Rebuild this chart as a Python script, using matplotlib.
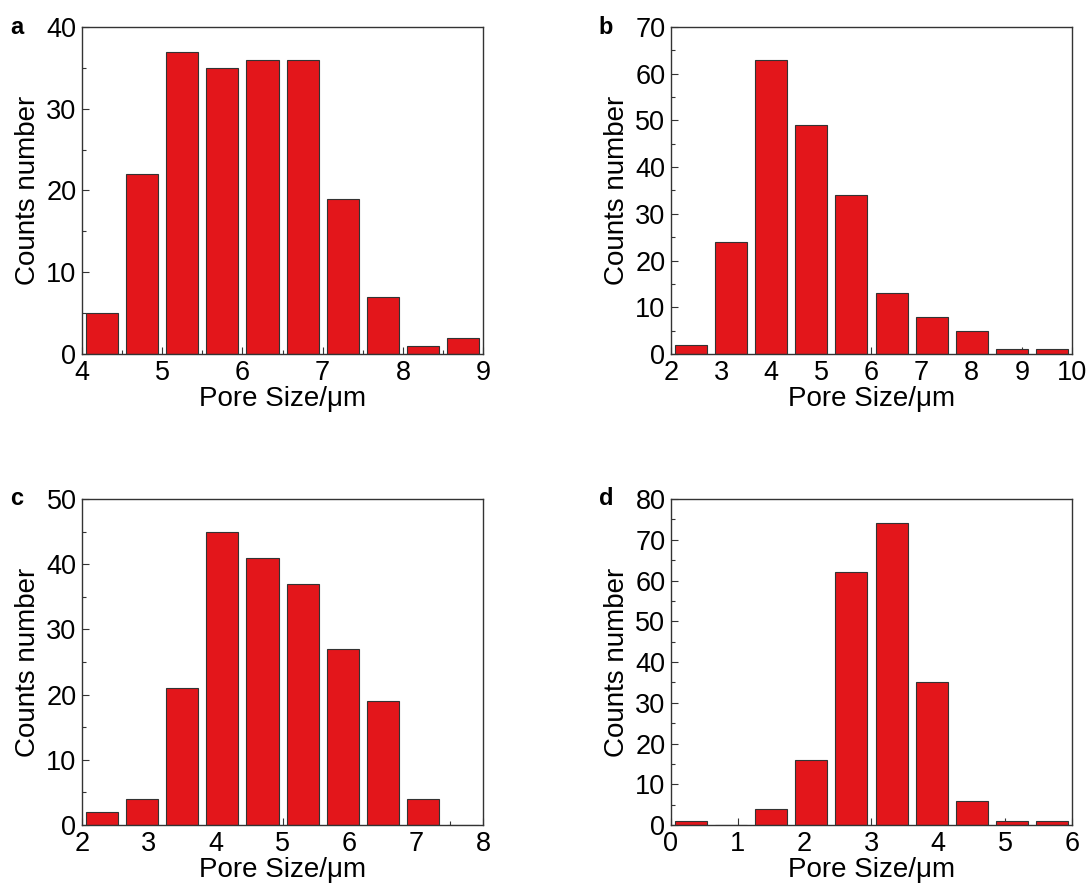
import matplotlib
matplotlib.use("Agg")
import matplotlib.pyplot as plt
from matplotlib.ticker import MultipleLocator

plt.rcParams['font.family'] = ['Liberation Sans', 'DejaVu Sans']

# bin centres and counts for each panel
centers_a = [4.25, 4.75, 5.25, 5.75, 6.25, 6.75, 7.25, 7.75, 8.25, 8.75]
counts_a = [5, 22, 37, 35, 36, 36, 19, 7, 1, 2]

centers_b = [2.4, 3.2, 4.0, 4.8, 5.6, 6.4, 7.2, 8.0, 8.8, 9.6]
counts_b = [2, 24, 63, 49, 34, 13, 8, 5, 1, 1]

centers_c = [2.3, 2.9, 3.5, 4.1, 4.7, 5.3, 5.9, 6.5, 7.1, 7.7]
counts_c = [2, 4, 21, 45, 41, 37, 27, 19, 4, 0]

centers_d = [0.3, 0.9, 1.5, 2.1, 2.7, 3.3, 3.9, 4.5, 5.1, 5.7]
counts_d = [1, 0, 4, 16, 62, 74, 35, 6, 1, 1]

panels = [
    ('a', centers_a, counts_a, 0.5, (4, 9), (0, 40), [0.0752, 0.6005, 0.3676, 0.369]),
    ('b', centers_b, counts_b, 0.8, (2, 10), (0, 70), [0.6150, 0.6005, 0.3676, 0.369]),
    ('c', centers_c, counts_c, 0.6, (2, 8), (0, 50), [0.0752, 0.0688, 0.3676, 0.368]),
    ('d', centers_d, counts_d, 0.6, (0, 6), (0, 80), [0.6150, 0.0688, 0.3676, 0.368]),
]

fig = plt.figure(figsize=(10.91, 8.86), dpi=100)

for letter, centers, counts, binw, xlim, ylim, pos in panels:
    ax = fig.add_axes(pos)
    ax.bar(centers, counts, width=binw * 0.8, color='#e3161b',
           edgecolor='#333333', linewidth=0.8, zorder=2)
    ax.set_xlim(*xlim)
    ax.set_ylim(*ylim)
    ax.xaxis.set_major_locator(MultipleLocator(1))
    ax.xaxis.set_minor_locator(MultipleLocator(0.5))
    ax.yaxis.set_major_locator(MultipleLocator(10))
    ax.yaxis.set_minor_locator(MultipleLocator(5))
    ax.tick_params(which='both', direction='in', top=False, right=False,
                   color='#333333', width=0.8)
    ax.tick_params(which='major', length=5, labelsize=19.5, pad=4)
    ax.tick_params(which='minor', length=3)
    for sp in ax.spines.values():
        sp.set_color('#333333')
        sp.set_linewidth(1.0)
    ax.set_xlabel('Pore Size/μm', fontsize=20, labelpad=0)
    ax.set_ylabel('Counts number', fontsize=20, labelpad=4)
    ax.text(-0.18, 1.0, letter, transform=ax.transAxes, fontsize=17,
            fontweight='bold', va='center', ha='left')

fig.savefig('out.png', dpi=100)
